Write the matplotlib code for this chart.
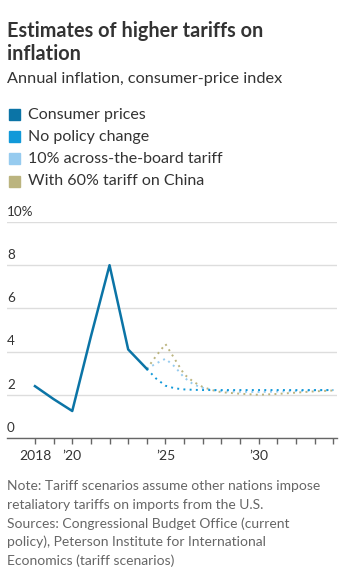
import numpy as np
import matplotlib.pyplot as plt
from matplotlib.patches import Rectangle

plt.rcParams['font.family'] = ['Lato', 'DejaVu Sans']

# consumer prices (actual)
hist_years = [2018, 2019, 2020, 2021, 2022, 2023, 2024]
hist_vals = [2.4, 1.8, 1.25, 4.7, 8.0, 4.1, 3.2]

# projections
proj_years = [2024, 2024.5, 2025, 2025.5, 2026, 2026.5, 2027, 2027.5,
              2028, 2029, 2030, 2031, 2032, 2033, 2034]
no_change = [3.2, 2.75, 2.42, 2.3, 2.25, 2.23, 2.22, 2.22,
             2.22, 2.22, 2.22, 2.22, 2.22, 2.22, 2.22]
tariff10 = [3.2, 3.45, 3.67, 3.3, 2.8, 2.48, 2.32, 2.22,
            2.17, 2.14, 2.13, 2.15, 2.17, 2.2, 2.22]
china60 = [3.2, 3.8, 4.35, 3.65, 2.95, 2.6, 2.36, 2.22,
           2.12, 2.05, 2.0, 2.04, 2.1, 2.16, 2.2]

labels = ['Consumer prices', 'No policy change',
          '10% across-the-board tariff', 'With 60% tariff on China']
colors = ['#0b74a6', '#1199d9', '#96cbef', '#bbb47f']

yticks = [0, 2, 4, 6, 8, 10]
ytick_labels = ['0', '2', '4', '6', '8', '10%']
xtick_years = list(range(2018, 2035))
xtick_named = {2018: '2018', 2020: '\u201920', 2025: '\u201925', 2030: '\u201930'}

note_lines = ['Note: Tariff scenarios assume other nations impose',
              'retaliatory tariffs on imports from the U.S.',
              'Sources: Congressional Budget Office (current',
              'policy), Peterson Institute for International',
              'Economics (tariff scenarios)']

W, H = 354, 579
fig = plt.figure(figsize=(W/100, H/100), dpi=100)
ax = fig.add_axes([7/W, 1-438/H, 330/W, 216/H])

dots = (0, (1, 2.2))
ax.plot(proj_years, china60, color=colors[3], lw=1.4, ls=dots, dash_capstyle='butt')
ax.plot(proj_years, tariff10, color=colors[2], lw=1.4, ls=dots, dash_capstyle='butt')
ax.plot(proj_years, no_change, color=colors[1], lw=1.4, ls=dots, dash_capstyle='butt')
ax.plot(hist_years, hist_vals, color=colors[0], lw=1.8)

ax.set_xlim(2016.5, 2034.2)
ax.set_ylim(0, 10)

for s in ['top', 'right', 'left']:
    ax.spines[s].set_visible(False)
ax.spines['bottom'].set_color('#666666')
ax.spines['bottom'].set_linewidth(1)

ax.set_yticks(yticks)
ax.set_yticklabels([])
ax.tick_params(axis='y', length=0)
ax.grid(axis='y', color='#dddddd', lw=1)
ax.set_axisbelow(True)
for y, lab in zip(yticks, ytick_labels):
    ax.annotate(lab, xy=(0, y), xycoords=('axes fraction', 'data'),
                xytext=(0, 3), textcoords='offset points',
                ha='left', va='bottom', fontsize=9.7, color='#333333')

ax.set_xticks(xtick_years)
ax.set_xticklabels([xtick_named.get(y, '') for y in xtick_years])
ax.tick_params(axis='x', direction='out', length=4, color='#666666', width=1,
               pad=5, labelsize=10, labelcolor='#333333')

fig.text(7/W, 1-37/H, 'Estimates of higher tariffs on',
         fontsize=14.3, fontweight='bold', color='#333333', va='baseline')
fig.text(7/W, 1-60/H, 'inflation',
         fontsize=14.3, fontweight='bold', color='#333333', va='baseline')
fig.text(7/W, 1-83/H, 'Annual inflation, consumer-price index',
         fontsize=11.7, color='#333333', va='baseline')

for i, lab in enumerate(labels):
    yc = 114.5 + i*22.2
    fig.patches.append(Rectangle((9/W, 1-(yc+5.5)/H), 11/W, 11/H,
                                 transform=fig.transFigure,
                                 color=colors[i]))
    fig.text(28/W, 1-yc/H, lab, fontsize=11.5, color='#333333', va='center')

for i, line in enumerate(note_lines):
    fig.text(7/W, 1-(490 + i*18.8)/H, line, fontsize=10, color='#666666',
             va='baseline')

fig.savefig('out.png', dpi=100)
